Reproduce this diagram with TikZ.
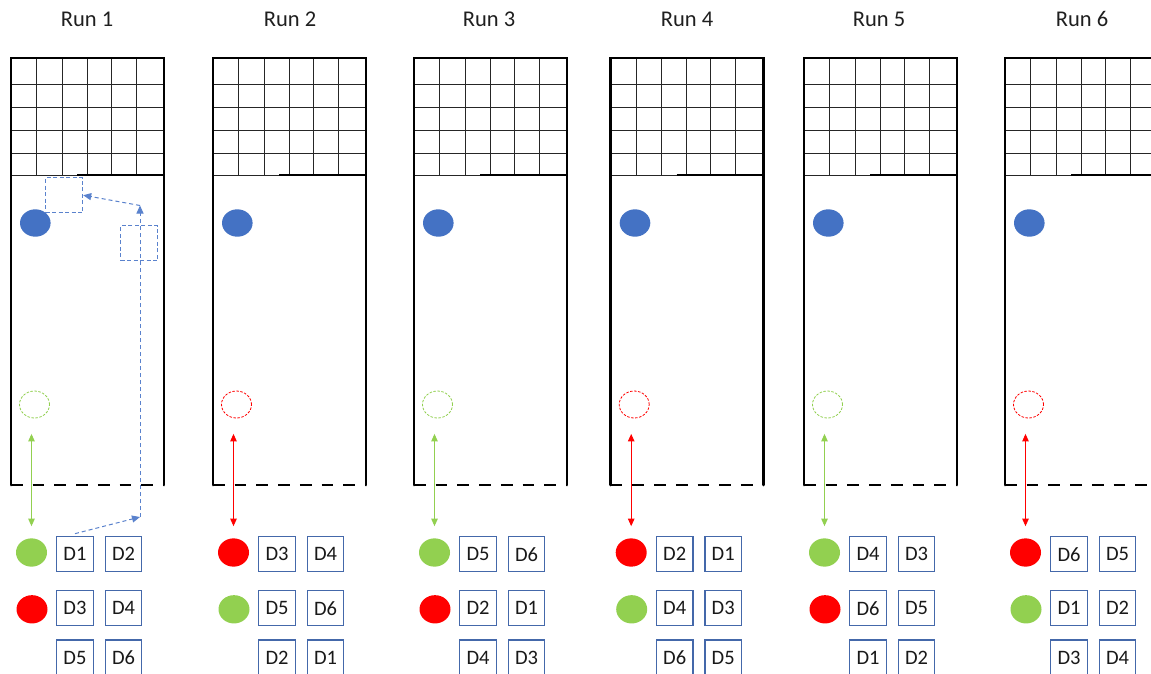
\documentclass[tikz,border=0pt]{standalone}
\usepackage{fontspec}
\setmainfont{Carlito}
\usetikzlibrary{arrows.meta,shapes.geometric}
\definecolor{obl}{HTML}{4472C4}
\definecolor{ogreen}{HTML}{92D050}
\definecolor{ored}{HTML}{FF0000}
\definecolor{dbl}{RGB}{68,104,170}
\definecolor{bpc}{RGB}{90,130,205}
\begin{document}
\begin{tikzpicture}[x=1pt,y=-1pt,
  gridl/.style={line width=0.9pt, black!85},
  thickl/.style={line width=2.8pt, black},
  bluedot/.style={ellipse, fill=obl, minimum width=30.6pt, minimum height=27.4pt, inner sep=0pt},
  ghost/.style={ellipse, dash pattern=on 2.5pt off 1.5pt, line width=0.8pt, minimum width=30pt, minimum height=27pt, inner sep=0pt},
  dot/.style={ellipse, minimum width=31pt, minimum height=28.3pt, inner sep=0pt},
  dbox/.style={draw=dbl, line width=1.1pt, minimum width=36.5pt, minimum height=35pt, inner sep=0pt, font=\fontsize{20.5}{24}\selectfont, text=black!90},
  runlbl/.style={font=\fontsize{22.5}{27}\selectfont, text=black!88, inner sep=0pt},
  dblarrow/.style={{Triangle[length=7.5pt,width=6.5pt]}-{Triangle[length=7.5pt,width=6.5pt]}, line width=0.9pt},
  bpath/.style={draw=bpc, line width=1pt, dash pattern=on 4pt off 3pt, -{Triangle[length=8pt,width=7pt]}},
  dsq/.style={draw=bpc, line width=1pt, dash pattern=on 4pt off 2.5pt, minimum width=37pt, minimum height=35pt, inner sep=0pt}
]
\useasboundingbox (0,0) rectangle (1151,673);
\clip (0,0) rectangle (1151,673);
\fill[white] (0,0) rectangle (1151,673);

\foreach \i/\Lx/\lx/\Ca/\Cb/\Da/\Db/\Dc/\Dd/\De/\Df in {
  1/11/87/ogreen/ored/D1/D2/D3/D4/D5/D6,
  2/213/290/ored/ogreen/D3/D4/D5/D6/D2/D1,
  3/414/489/ogreen/ored/D5/D6/D2/D1/D4/D3,
  4/610.7/687/ored/ogreen/D2/D1/D4/D3/D6/D5,
  5/804/879/ogreen/ored/D4/D3/D6/D5/D1/D2,
  6/1005/1082/ored/ogreen/D6/D5/D1/D2/D3/D4} {
  \node[runlbl, anchor=base] (lbl\i) at (\lx,26) {Run \i};
  % grid
  \foreach \yy in {84,107,130,153} \draw[gridl] (\Lx,\yy) -- (\Lx+153,\yy);
  \foreach \xx in {25.5,51,76,100,125} \draw[gridl] (\Lx+\xx,58) -- (\Lx+\xx,175);
  \draw[gridl] (\Lx,175) -- (\Lx+66,175);
  \draw[thickl] (\Lx+66,175) -- (\Lx+153,175);
  % outline
  \draw[thickl, line cap=round, line join=miter] (\Lx,485) -- (\Lx,58) -- (\Lx+153,58) -- (\Lx+153,485);
  \draw[thickl, dash pattern=on 11.7pt off 10pt] (\Lx,485) -- (\Lx+153,485);
  % dots
  \node[bluedot] (b\i) at (\Lx+24.3,223) {};
  \node[ghost, draw=\Ca] (g\i) at (\Lx+23.5,404.5) {};
  \node[dot, fill=\Ca] (t\i) at (\Lx+20.5,552.5) {};
  \node[dot, fill=\Cb] (u\i) at (\Lx+21,609.3) {};
  \draw[dblarrow, \Ca, shorten <=15.5pt, shorten >=12pt] (t\i.north |- g\i.south) -- (t\i.north);
  % D boxes
  \node[dbox] (da\i) at (\Lx+64,554.2) {\Da};
  \node[dbox] (db\i) at (\Lx+112.5,554.2) {\Db};
  \node[dbox] (dc\i) at (\Lx+64,608.2) {\Dc};
  \node[dbox] (dd\i) at (\Lx+112.5,608.2) {\Dd};
  \node[dbox] (de\i) at (\Lx+64,657.5) {\De};
  \node[dbox] (df\i) at (\Lx+112.5,657.5) {\Df};
}

% run 1 path
\node[dsq] (sq1) at (64.2,195.2) {};
\node[dsq] (sq2) at (139,243.3) {};
\coordinate (p1) at (140,517);
\coordinate (p2) at (140,205.5);
\draw[bpath] ([yshift=2.5pt]da1.north) -- (p1);
\draw[bpath] (p1) -- (p2);
\draw[bpath] (p2) -- (sq1.east);
\end{tikzpicture}
\end{document}
